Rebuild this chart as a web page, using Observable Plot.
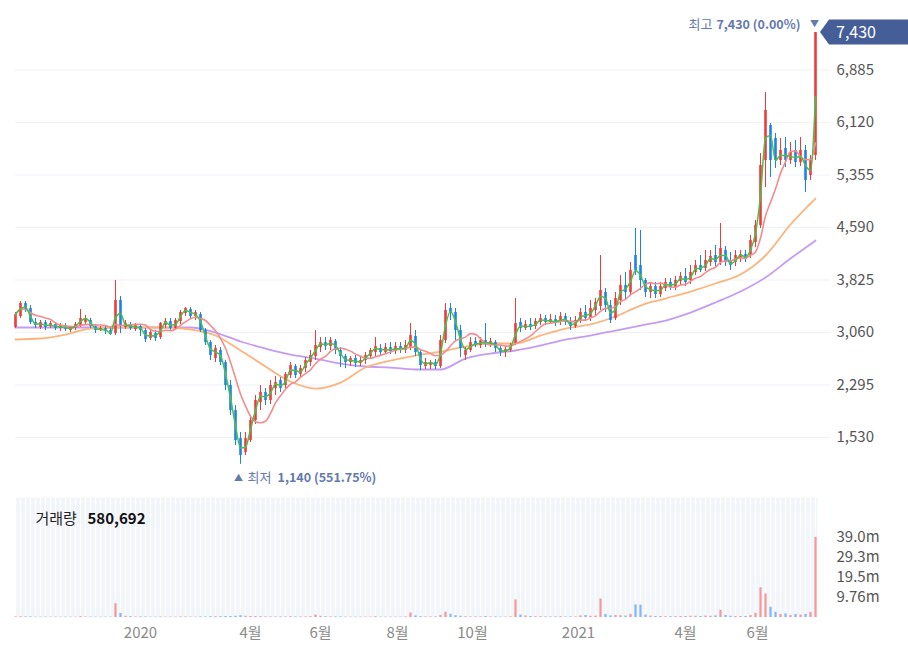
<!DOCTYPE html>
<html><head><meta charset="utf-8">
<script src="https://cdn.jsdelivr.net/npm/d3@7"></script>
<script src="https://cdn.jsdelivr.net/npm/@observablehq/plot@0.6"></script>
<style>
body{margin:0;background:#fff;font-family:"Noto Sans CJK KR","Noto Sans",sans-serif}
#chart{width:908px;height:668px;overflow:hidden}
#chart svg{display:block}
</style>
</head><body><div id="chart"></div>
<script>
const opens = [3133,3293,3483,3410,3206,3133,3206,3147,3177,3118,
3162,3089,3118,3162,3206,3235,3147,3104,3118,3089,
3045,3526,3133,3177,3104,3147,3089,2973,3045,2987,
3162,3220,3118,3220,3337,3395,3293,3322,3089,2914,
2681,2798,2623,2288,1924,1515,1312,1486,1778,2040,
2186,2069,2244,2361,2288,2433,2565,2448,2535,2623,
2710,2841,2914,2856,2929,2798,2710,2623,2681,2608,
2652,2710,2769,2827,2769,2841,2783,2856,2798,2841,
3002,2769,2565,2579,2623,2565,2943,3410,3351,3089,
2725,2798,2929,2871,2943,2885,2914,2827,2769,2798,
2900,3206,3118,3177,3147,3206,3264,3206,3249,3206,
3293,3206,3147,3235,3351,3264,3381,3439,3643,3453,
3264,3526,3745,3643,4182,4036,3818,3643,3730,3614,
3701,3789,3716,3803,3876,3818,3934,4036,3992,4080,
4182,4080,4255,4109,4080,4138,4196,4182,4371,4619,
5566,6076,5887,5566,5741,5566,5712,5537,5712,5347,
5639];
const highs = [3351,3512,3512,3453,3264,3235,3235,3220,3206,3191,
3191,3147,3206,3395,3308,3264,3177,3147,3147,3133,
3818,3585,3235,3206,3191,3177,3118,3089,3089,3206,
3264,3264,3264,3381,3424,3424,3381,3351,3118,2943,
2871,2841,2652,2361,1996,1603,1603,1851,2142,2288,
2244,2361,2419,2404,2477,2623,2594,2579,2696,2798,
3089,2987,2987,2987,2958,2841,2739,2710,2725,2696,
2769,2827,2987,2885,2900,2914,2914,2914,2943,3191,
3089,2798,2681,2652,2667,3016,3483,3483,3410,3162,
2841,2987,2987,2987,3191,2973,2943,2871,2856,2900,
3555,3264,3235,3264,3264,3322,3308,3322,3308,3351,
3337,3279,3293,3410,3453,3526,3555,4182,3701,3526,
3643,3890,3934,4080,4575,4546,3847,3789,3789,3789,
3847,3847,3876,3934,3992,4036,4109,4182,4255,4255,
4328,4648,4313,4226,4255,4255,4255,4473,4692,5668,
6557,6105,5959,5887,5901,5828,5857,5901,5785,5639,
7430];
const lows = [3118,3264,3351,3177,3118,3104,3089,3118,3089,3075,
3075,3060,3089,3133,3162,3118,3045,3075,3031,3016,
3016,3045,3104,3089,3075,3002,2914,2943,2929,2958,
3118,3089,3089,3177,3293,3264,3235,3060,2871,2652,
2623,2579,2215,1851,1413,1140,1268,1457,1720,1924,
1996,2011,2142,2186,2244,2390,2390,2390,2477,2565,
2652,2769,2798,2798,2739,2550,2535,2565,2550,2565,
2594,2681,2710,2725,2739,2739,2739,2754,2754,2798,
2710,2506,2521,2521,2521,2535,2900,3235,2943,2696,
2652,2769,2841,2827,2841,2841,2769,2710,2696,2769,
2871,3060,3089,3089,3104,3162,3162,3177,3147,3162,
3162,3089,3118,3191,3235,3220,3308,3381,3351,3191,
3235,3453,3526,3599,3890,3672,3570,3555,3555,3570,
3657,3672,3672,3745,3730,3759,3890,3934,3949,4022,
4022,4036,4022,3963,4022,4080,4080,4138,4298,4575,
5173,5318,5449,5493,5464,5508,5464,5479,5100,5275,
5566];
const closes = [3322,3483,3381,3206,3162,3206,3133,3191,3118,3162,
3104,3133,3177,3264,3264,3147,3089,3118,3075,3031,
3526,3147,3191,3118,3162,3089,2958,3060,2973,3191,
3220,3118,3235,3351,3410,3293,3351,3089,2914,2725,
2827,2623,2288,1924,1486,1268,1515,1778,2069,2186,
2069,2288,2331,2244,2448,2579,2433,2535,2652,2725,
2871,2914,2856,2943,2798,2710,2623,2681,2608,2652,
2725,2798,2856,2769,2841,2783,2856,2798,2871,3016,
2769,2579,2623,2623,2565,2943,3381,3351,3089,2827,
2798,2914,2871,2943,2885,2929,2827,2769,2812,2871,
3191,3118,3177,3133,3220,3264,3206,3249,3191,3293,
3206,3147,3235,3351,3264,3410,3497,3672,3453,3235,
3555,3745,3643,3963,3963,3818,3643,3730,3614,3730,
3789,3716,3818,3876,3789,3934,4036,3963,4109,4167,
4080,4284,4080,4036,4182,4196,4124,4400,4619,5493,
6295,5566,5566,5712,5566,5683,5537,5712,5275,5566,
7430];
// volume in millions of shares
const volumesM = [0.3,0.4,0.3,0.3,0.2,0.2,0.2,0.2,0.2,0.2,
0.2,0.2,0.2,0.4,0.3,0.2,0.2,0.2,0.2,0.2,
6.7,2.0,0.6,0.4,0.3,0.3,0.3,0.2,0.2,0.3,
0.2,0.2,0.2,0.3,0.3,0.2,0.2,0.3,0.3,0.4,
0.4,0.4,0.5,0.5,0.6,0.9,0.6,0.5,0.5,0.4,
0.3,0.3,0.3,0.3,0.3,0.4,0.3,0.3,0.3,0.4,
1.2,0.6,0.4,0.3,0.3,0.3,0.2,0.2,0.2,0.2,
0.2,0.2,0.4,0.2,0.2,0.2,0.2,0.2,0.3,2.2,
0.8,0.4,0.3,0.3,0.3,1.0,2.6,1.6,0.9,0.6,
0.4,0.3,0.3,0.3,0.5,0.3,0.3,0.2,0.2,0.3,
8.6,1.2,0.8,0.5,0.4,0.4,0.3,0.3,0.3,0.4,
0.3,0.3,0.3,0.8,1.0,0.6,0.7,9.0,1.5,0.8,
1.0,0.9,0.7,1.5,6.2,6.0,1.2,0.7,0.5,0.5,
0.4,0.4,0.4,0.5,0.5,0.6,0.6,0.5,0.7,0.6,
0.8,3.5,1.0,0.6,0.5,0.5,0.5,1.0,2.0,14.5,
11.5,5.0,2.5,1.5,1.8,1.0,1.5,1.2,1.5,2.5,
39.04];
// longer moving averages read at every 5th candle (they depend on history before the view)
const maIdx = [0,5,10,15,20,25,30,35,40,45,50,55,60,65,70,75,80,85,90,95,100,105,110,115,120,125,130,135,140,145,150,155,160];
const ma60 = [2958,2973,3031,3118,3133,3133,3133,3104,3016,2798,2565,2346,2244,2331,2550,2652,2725,2783,2856,2900,2900,3016,3118,3177,3293,3453,3555,3657,3774,3905,4182,4634,5012];
const ma120 = [3133,3133,3133,3133,3133,3133,3133,3133,3060,2929,2827,2739,2681,2608,2565,2550,2521,2521,2681,2754,2798,2871,2958,3016,3089,3162,3235,3351,3497,3657,3861,4138,4400];
const priceTicks = [1530,2295,3060,3825,4590,5355,6120,6885];
const volTicks = [9.76,19.52,29.28,39.04];
const volTickLabels = ["9.76m","19.5m","29.3m","39.0m"];
const monthTickPos = [25,47,61,76.4,91.4,112.6,134,148.4];
const monthTickLabels = ["2020","4월","6월","8월","10월","2021","4월","6월"];
const volumeTitle = "거래량";
const volumeValue = "580,692";
const hiLabel = "최고", loLabel = "최저";

const RED = "#ee3b3b", BLUE = "#1f80e6";
const LABEL = "#6479ad";
const FONT = '"Noto Sans CJK KR","Noto Sans",sans-serif';

const candles = closes.map((c, i) => ({i, o: opens[i], h: highs[i], l: lows[i], c, v: volumesM[i], up: c >= opens[i]}));
const upC = candles.filter(d => d.up), downC = candles.filter(d => !d.up);
const maRows = vals => maIdx.map((i, k) => ({i, v: vals[k]}));
const hiI = d3.maxIndex(highs), loI = d3.minIndex(lows);
const last = closes[closes.length - 1];
const fmt = d3.format(",");
const pct = v => ((last - v) / v * 100).toFixed(2) + "%";

const main = Plot.plot({
  width: 908, height: 490,
  marginLeft: 15, marginRight: 78, marginTop: 14, marginBottom: 10,
  style: {fontFamily: FONT, fontSize: "15px", background: "white", overflow: "visible"},
  x: {domain: [0, 160], range: [15, 815], axis: null, label: null},
  y: {domain: [900, 7700], range: [480.3, 13.5], label: null},
  marks: [
    Plot.gridY(priceTicks, {stroke: "#eef1f6", strokeOpacity: 1}),
    Plot.axisY(priceTicks, {anchor: "right", tickSize: 0, tickPadding: 6, tickFormat: fmt, fill: "#555", fontSize: 15, label: null}),
    Plot.line(maRows(ma120), {x: "i", y: "v", stroke: "#c49cf6", strokeWidth: 1.8, curve: "monotone-x"}),
    Plot.line(maRows(ma60), {x: "i", y: "v", stroke: "#fbb47c", strokeWidth: 1.8, curve: "monotone-x"}),
    Plot.ruleX(upC, {x: "i", y1: "l", y2: "h", stroke: RED, strokeWidth: 1}),
    Plot.ruleX(upC, {x: "i", y1: "o", y2: "c", stroke: RED, strokeWidth: 2.6}),
    Plot.ruleX(downC, {x: "i", y1: "l", y2: "h", stroke: BLUE, strokeWidth: 1}),
    Plot.ruleX(downC, {x: "i", y1: "o", y2: "c", stroke: BLUE, strokeWidth: 2.6}),
    // 20-day average (7 candles of ~3 trading days)
    Plot.line(candles, Plot.windowY({k: 7, anchor: "end"}, {x: "i", y: "c", stroke: "#f48c8c", strokeWidth: 1.6, curve: "monotone-x"})),
    // 5-day average
    Plot.line(candles, Plot.windowY({k: 2, anchor: "end"}, {x: "i", y: "c", stroke: "#44c24c", strokeWidth: 1.5, curve: "monotone-x"})),
    // high label
    Plot.text([candles[hiI]], {x: "i", y: "h", text: () => "▼", dx: -1, dy: -8, fill: LABEL, fontSize: 9}),
    Plot.text([candles[hiI]], {x: "i", y: "h", text: d => fmt(d.h) + " (" + pct(d.h) + ")", dx: -15, dy: -8, textAnchor: "end", fill: LABEL, fontSize: 12.5, fontWeight: "bold"}),
    Plot.text([candles[hiI]], {x: "i", y: "h", text: () => hiLabel, dx: -103, dy: -8, textAnchor: "end", fill: LABEL, fontSize: 13}),
    // low label
    Plot.text([candles[loI]], {x: "i", y: "l", text: () => "▲", dx: -2, dy: 14, fill: LABEL, fontSize: 9}),
    Plot.text([candles[loI]], {x: "i", y: "l", text: () => loLabel, dx: 7, dy: 14, textAnchor: "start", fill: LABEL, fontSize: 13}),
    Plot.text([candles[loI]], {x: "i", y: "l", text: d => fmt(d.l) + " (" + pct(d.l) + ")", dx: 37, dy: 14, textAnchor: "start", fill: LABEL, fontSize: 12.5, fontWeight: "bold"})
  ]
});

// current price tag on the right axis
const y0 = main.scale("y").apply(last);
const tag = d3.select(main).append("g");
tag.append("path")
  .attr("d", `M820,${y0} L829,${y0 - 12.5} L908,${y0 - 12.5} L908,${y0 + 12.5} L829,${y0 + 12.5} Z`)
  .attr("fill", "#455e98");
tag.append("text").attr("x", 836).attr("y", y0).attr("dy", "0.36em")
  .attr("text-anchor", "start")
  .attr("fill", "white").attr("font-size", 16).attr("font-family", FONT).text(fmt(last));

const vol = Plot.plot({
  width: 908, height: 178,
  marginLeft: 15, marginRight: 91, marginTop: 7, marginBottom: 51,
  style: {fontFamily: FONT, fontSize: "15px", background: "white", overflow: "visible"},
  x: {domain: [0, 160], range: [15, 815], label: null},
  y: {domain: [0, 58.5], label: null},
  marks: [
    Plot.frame({fill: "#f2f5fa", stroke: null}),
    Plot.ruleX(candles, {x: "i", stroke: "#ffffff", strokeWidth: 1}),
    Plot.ruleX(upC, {x: "i", y1: 0, y2: "v", stroke: "#f29a9a", strokeWidth: 2.2}),
    Plot.ruleX(downC, {x: "i", y1: 0, y2: "v", stroke: "#86b8ee", strokeWidth: 2.2}),
    Plot.axisY(volTicks, {anchor: "right", tickSize: 0, tickPadding: 19, tickFormat: d => volTickLabels[volTicks.indexOf(d)], fill: "#555", fontSize: 15, label: null}),
    Plot.axisX(monthTickPos, {anchor: "bottom", tickSize: 0, tickPadding: 10, tickFormat: d => monthTickLabels[monthTickPos.indexOf(d)], fill: "#8a8a8a", fontSize: 15, label: null}),
    Plot.text([volumeTitle], {frameAnchor: "top-left", dx: 20, dy: 16, textAnchor: "start", fill: "#222", fontSize: 15}),
    Plot.text([volumeValue], {frameAnchor: "top-left", dx: 72, dy: 16, textAnchor: "start", fill: "#111", fontSize: 15, fontWeight: "bold"})
  ]
});

const root = document.getElementById("chart");
root.appendChild(main);
root.appendChild(vol);
</script>
</body></html>
